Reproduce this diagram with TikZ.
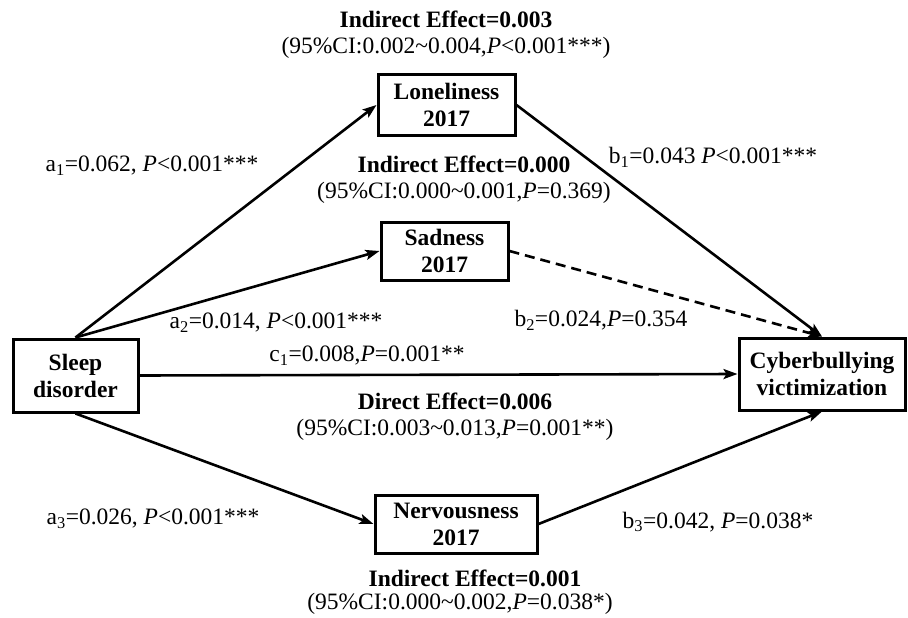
\documentclass[tikz,border=0pt]{standalone}
\usepackage{fontspec}
\setmainfont{Liberation Serif}
\usepackage{tikz}
\usetikzlibrary{arrows.meta, positioning, calc}

\begin{document}
\begin{tikzpicture}[
    x=1pt, y=-1pt,
    var/.style={draw, line width=3pt, inner sep=2pt, align=center, font=\fontsize{23.5}{27}\selectfont\bfseries},
    lbl/.style={inner sep=0pt, font=\fontsize{23.5}{26}\selectfont},
    eff/.style={inner sep=0pt, align=center, font=\fontsize{23.5}{26}\selectfont},
    path/.style={line width=2.6pt, -{Stealth[length=14pt, width=10pt, inset=3pt]}},
    >=Stealth
]
\useasboundingbox (0,0) rectangle (908,618);

\node[var, minimum width=125pt, minimum height=73pt] (sleep) at (75.5,375.5) {Sleep\\disorder};
\node[var, minimum width=137pt, minimum height=60pt] (lonely) at (446.5,105) {Loneliness\\2017};
\node[var, minimum width=127pt, minimum height=58pt] (sad) at (444.5,251) {Sadness\\2017};
\node[var, minimum width=162pt, minimum height=58pt] (nerv) at (456,524) {Nervousness\\2017};
\node[var, minimum width=166pt, minimum height=72pt] (cyber) at (822,374) {Cyberbullying\\victimization};

% paths a, b, c
\draw[path] (sleep.north) -- (lonely.west);
\draw[path] (sleep.north) -- (sad.west);
\draw[path] (sleep.east) -- (cyber.west);
\draw[path] (sleep.south) -- (nerv.west);
\draw[path] (lonely.east) -- (cyber.north);
\draw[path, dash pattern=on 10pt off 6pt] (sad.east) -- (cyber.north);
\draw[path] (nerv.east) -- (cyber.south);

% coefficients
\node[lbl] (a1) at (152,166) {a\textsubscript{1}=0.062, \textit{P}<0.001***};
\node[lbl] (a2) at (276,323) {a\textsubscript{2}=0.014, \textit{P}<0.001***};
\node[lbl] (a3) at (153,519) {a\textsubscript{3}=0.026, \textit{P}<0.001***};
\node[lbl] (b1) at (713,157) {b\textsubscript{1}=0.043 \textit{P}<0.001***};
\node[lbl] (b2) at (601,320) {b\textsubscript{2}=0.024,\textit{P}=0.354};
\node[lbl] (b3) at (718,522) {b\textsubscript{3}=0.042, \textit{P}=0.038*};
\node[lbl] (c1) at (367,356) {c\textsubscript{1}=0.008,\textit{P}=0.001**};

% effects
\node[eff] (ind1) at (446,35) {\textbf{Indirect Effect=0.003}\\(95\%CI:0.002\textasciitilde0.004,\textit{P}<0.001***)};
\node[eff] (ind2) at (464,180) {\textbf{Indirect Effect=0.000}\\(95\%CI:0.000\textasciitilde0.001,\textit{P}=0.369)};
\node[eff] (dir) at (455,417) {\textbf{Direct Effect=0.006}\\(95\%CI:0.003\textasciitilde0.013,\textit{P}=0.001**)};
\node[eff] (ind3) at (475,578) {\textbf{Indirect Effect=0.001}};
\node[eff] (ci3) at (460,604) {(95\%CI:0.000\textasciitilde0.002,\textit{P}=0.038*)};
\end{tikzpicture}
\end{document}
